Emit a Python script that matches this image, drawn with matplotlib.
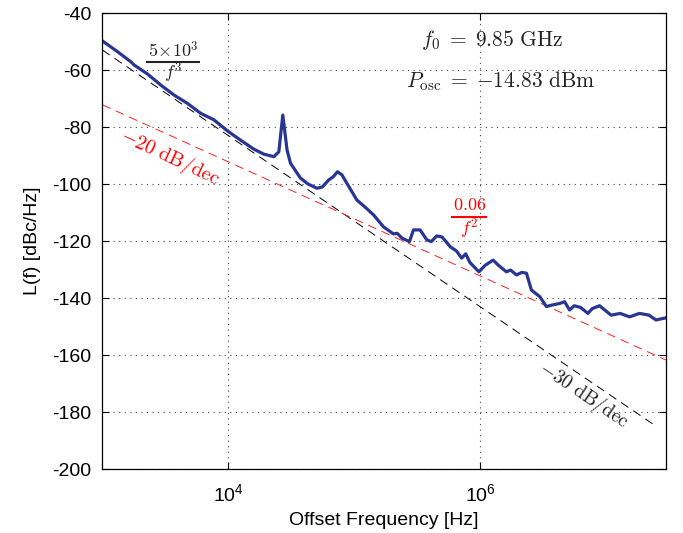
import numpy as np
import matplotlib
matplotlib.use("Agg")
import matplotlib.pyplot as plt
from matplotlib.lines import Line2D
from matplotlib.ticker import FixedLocator, FixedFormatter, NullLocator

plt.rcParams['font.family'] = ['Liberation Sans', 'DejaVu Sans']
plt.rcParams['mathtext.fontset'] = 'custom'
plt.rcParams['mathtext.rm'] = 'Liberation Sans'
plt.rcParams['mathtext.it'] = 'Liberation Sans:italic'

# measured phase noise
freq = [1.0e3, 1.32e3, 1.68e3, 1.78e3, 2.28e3, 2.91e3, 3.71e3, 4.73e3, 6.03e3, 7.7e3,
        9.8e3, 1.25e4, 1.6e4, 1.91e4, 2.3e4, 2.52e4, 2.71e4, 2.93e4, 3.12e4, 3.74e4,
        4.3e4, 5.07e4, 5.6e4, 6.27e4, 6.8e4, 7.38e4, 8.0e4, 8.77e4, 1.05e5, 1.25e5,
        1.43e5, 1.71e5, 2.05e5, 2.2e5, 2.4e5, 2.75e5, 2.96e5, 3.34e5, 3.78e5, 4.1e5,
        4.53e5, 5.0e5, 5.8e5, 6.5e5, 7.15e5, 7.7e5, 8.3e5, 9.8e5, 1.1e6, 1.27e6,
        1.4e6, 1.62e6, 1.75e6, 1.95e6, 2.15e6, 2.34e6, 2.56e6, 2.98e6, 3.37e6, 3.7e6,
        4.3e6, 4.7e6, 5.15e6, 5.6e6, 6.3e6, 7.2e6, 7.8e6, 8.9e6, 1.1e7, 1.3e7,
        1.54e7, 1.85e7, 2.2e7, 2.5e7, 2.96e7]
phase_noise = [-49.8, -53.6, -57.1, -58.2, -61.4, -65.3, -68.8, -71.7, -75.2, -77.5,
               -81.3, -84.6, -87.8, -89.5, -90.4, -88.7, -75.8, -88.1, -92.7, -97.9,
               -100.0, -101.5, -101.0, -98.6, -97.5, -95.7, -96.8, -99.8, -105.6, -108.5,
               -110.9, -115.0, -117.5, -117.3, -119.0, -120.2, -116.1, -116.1, -119.6, -120.2,
               -118.2, -118.6, -122.0, -123.5, -126.0, -124.5, -127.5, -130.8, -128.5, -126.7,
               -128.5, -130.8, -130.2, -131.9, -131.0, -131.3, -137.2, -139.5, -143.0, -142.5,
               -141.9, -141.3, -144.2, -142.7, -143.3, -145.4, -143.7, -142.7, -146.0, -145.4,
               -146.6, -145.4, -146.0, -147.7, -147.0]

# asymptote coefficients (from labels)
coef_f3 = 5e3
coef_f2 = 0.06
f3_range = [1.0e3, 2.5e7]
f2_range = [1.0e3, 3.0e7]

yticks = [-200, -180, -160, -140, -120, -100, -80, -60, -40]
xticks = [1e4, 1e6]
xticklabels = [r'$\mathregular{10^{4}}$', r'$\mathregular{10^{6}}$']

fig = plt.figure(figsize=(6.83, 5.33), dpi=100)
ax = fig.add_axes([0.150, 0.120, 0.825, 0.8556])

f3 = np.array(f3_range)
f2 = np.array(f2_range)
ax.plot(f3, 10 * np.log10(coef_f3 / f3**3), color='black', lw=0.7, dashes=(9, 6))
ax.plot(f2, 10 * np.log10(coef_f2 / f2**2), color='#ff2020', lw=0.7, dashes=(9, 6))
ax.plot(freq, phase_noise, color='#283593', lw=2.3, solid_joinstyle='round')

ax.set_xscale('log')
ax.set_xlim(1e3, 3e7)
ax.set_ylim(-200, -40)
ax.xaxis.set_major_locator(FixedLocator(xticks))
ax.xaxis.set_major_formatter(FixedFormatter(xticklabels))
ax.xaxis.set_minor_locator(NullLocator())
ax.set_yticks(yticks)
ax.set_yticklabels([str(v) for v in yticks])
ax.tick_params(direction='in', top=True, right=True, length=5, width=0.8, labelsize=14)
ax.tick_params(axis='x', pad=10)
ax.tick_params(axis='y', pad=8)
ax.grid(True, which='major', color='#444444', linestyle=(0, (1, 4)), lw=0.8)
for s in ax.spines.values():
    s.set_linewidth(0.9)

ax.set_xlabel('Offset Frequency [Hz]', fontsize=14, labelpad=5)
ax.set_ylabel('L(f) [dBc/Hz]', fontsize=14, labelpad=8)

tk = dict(transform=ax.transAxes, ha='center', va='center', math_fontfamily='cm')
ax.text(0.692, 0.94, r'$f_0 \;=\; 9.85\ \mathrm{GHz}$', fontsize=15.5, color='#222222', **tk)
ax.text(0.706, 0.85, r'$P_{\mathrm{osc}} \;=\; {-}14.83\ \mathrm{dBm}$', fontsize=15.5, color='#222222', **tk)
ax.text(0.12, 0.684, r'$-20\ \mathrm{dB/dec}$', fontsize=14.5, color='red', rotation=-25, **tk)
ax.text(0.855, 0.164, r'$-30\ \mathrm{dB/dec}$', fontsize=14, color='#222222', rotation=-34, **tk)

# fractions drawn as numerator / bar / denominator
def fraction(num, den, xc, y_num, y_bar, y_den, x0, x1, color):
    ax.text(xc, y_num, num, fontsize=13, color=color, **tk)
    ax.text(xc, y_den, den, fontsize=13, color=color, **tk)
    ax.add_line(Line2D([x0, x1], [y_bar, y_bar], transform=ax.transAxes,
                       color=color, lw=1.5, solid_capstyle='butt'))

fraction(r'$5\!\times\!10^3$', r'$f^3$', 0.125, 0.916, 0.892, 0.868, 0.0772, 0.1731, '#222222')
fraction(r'$0.06$', r'$f^2$', 0.6508, 0.578, 0.5533, 0.527, 0.6188, 0.6827, 'red')

fig.savefig('out.png', dpi=100)
